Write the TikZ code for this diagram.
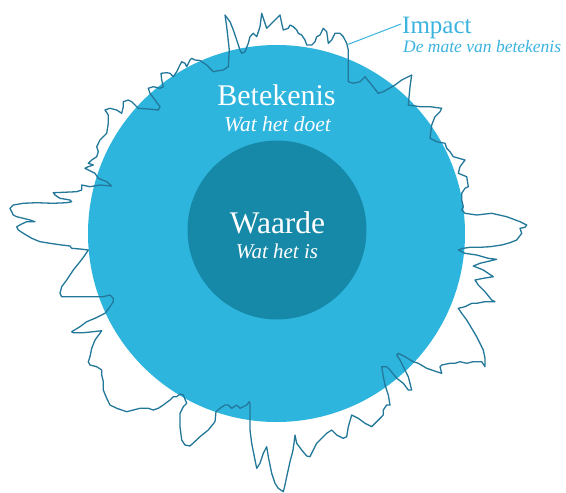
\documentclass[tikz,border=0pt]{standalone}
\usepackage{fontspec}
\setmainfont{Liberation Serif}
\definecolor{outer}{HTML}{2DB5DE}
\definecolor{inner}{HTML}{1789A8}
\definecolor{edge}{HTML}{23789A}
\definecolor{impc}{HTML}{3BB3E0}
\tikzset{
  outline/.style={draw=edge, line width=1.3pt, line join=round},
  whitetxt/.style={text=white, inner sep=0pt, anchor=base},
  bluetxt/.style={text=impc, inner sep=0pt, anchor=base west},
}
\begin{document}
\begin{tikzpicture}[x=1pt,y=-1pt]
\useasboundingbox (0,0) rectangle (566,493);
\fill[white] (0,0) rectangle (566,493);
\node[circle, fill=outer, minimum size=377pt, inner sep=0pt] (bet) at (276.5,233.5) {};
\node[circle, fill=inner, minimum size=179pt, inner sep=0pt] (waa) at (277,230) {};
\draw[outline] (148.3,88.3) -- (153.3,86.7) -- (160,88.3) -- (163.3,86.7) -- (161.7,80) -- (161,73.3) -- (166.7,72.7) -- (170,73.3) -- (173.3,76.7) -- (176.7,71.7) -- (180,65) -- (181.7,61.7) -- (185,63.3) -- (186.7,66.7) -- (190,60) -- (191.7,58.3) -- (195,60) -- (200,60.5) -- (206.7,65) -- (213.3,71.7) -- (218.3,70.7) -- (223.3,70) -- (228.3,66.7) -- (229.3,50) -- (226.7,26.7) -- (225,15) -- (230,21.7) -- (233.3,30) -- (236.7,40) -- (240,50) -- (241.7,53.3) -- (245,51.7) -- (248.3,43.3) -- (250,36.7) -- (253.3,33.3) -- (256.7,36.7) -- (260,26.7) -- (261.7,13.3) -- (265,23.3) -- (266.7,28.3) -- (270,25) -- (273.3,21.7) -- (278.3,16.7) -- (280,15) -- (281.7,23.3) -- (283.3,30) -- (288.3,28.3) -- (290,25) -- (293.3,26.7) -- (296.7,30) -- (298.3,33.3) -- (301.7,35) -- (305,40) -- (306.7,45) -- (311.7,45) -- (315,41.7) -- (316.7,36.7) -- (320,35) -- (323.3,28.3) -- (326.7,31.7) -- (328.3,43.3) -- (331.7,40) -- (335,33.3) -- (340,33.3) -- (343.3,36.7) -- (346.7,43.3) -- (348.3,50) -- (348.3,81.7) -- (353.3,83.3) -- (360,81.7) -- (365,76.7) -- (371.7,85) -- (378.3,93.3) -- (383.3,91.7) -- (395,85) -- (401.7,80) -- (411.7,75) -- (410,86.7) -- (408.3,105) -- (420,106.7) -- (430,106.7) -- (441.7,108.3) -- (440,111.7) -- (435,116.7) -- (431.7,125) -- (430,138.3) -- (436.7,141.7) -- (445,143.3) -- (446.7,148.3) -- (450,151.7) -- (453.3,156.7) -- (465,160) -- (460,166.7) -- (458.3,173.3) -- (466.7,176.7) -- (468.3,186.7) -- (465,188.3) -- (461.7,193.3) -- (461.7,200) -- (463.3,206.7) -- (461.7,210) -- (465,213.3) -- (476.7,215) -- (491.7,213.3) -- (506.7,216.7) -- (520,221.7) -- (526.7,225) -- (525,227.3) -- (520,228.3) -- (521.7,233.3) -- (516.7,240) -- (510,242.7) -- (501.7,245) -- (490,246.7) -- (480,247.3) -- (470,247.3) -- (463.3,248.3) -- (458.3,250) -- (465,253.3) -- (476.7,255) -- (488.3,258.3) -- (496.7,259.3) -- (480,263.3) -- (473.3,266) -- (483.3,270) -- (493.3,276.7) -- (483.3,278.3) -- (475,280) -- (478.3,285) -- (485,291.7) -- (491.7,300) -- (495,301.7) -- (485,301.7) -- (476.7,303.3) -- (471.7,303.3) -- (465,306.7) -- (458.3,308.3) -- (461.7,313.3) -- (466.7,320) -- (471.7,328.3) -- (476.7,336.7) -- (480,343.3) -- (483.3,350) -- (485,358.3) -- (485,366.7) -- (481.7,361.7) -- (473.3,361.7) -- (466.7,363.3) -- (460,361.7) -- (455,363.3) -- (450,363.3) -- (441.7,365) -- (440,366.7) -- (441.7,373.3) -- (436.7,371.7) -- (426.7,368.3) -- (418.3,363.3) -- (413.3,361.7) -- (405,356.7) -- (398.3,353.3) -- (396.7,355) -- (400,360) -- (405,370) -- (408.3,376.7) -- (411.7,390) -- (408.3,390) -- (403.3,383.3) -- (396.7,378.3) -- (390,370) -- (386.7,366.7) -- (381.7,366.7) -- (383.3,376.7) -- (385,385) -- (388.3,395) -- (390,405) -- (386.7,405) -- (383.3,410) -- (383.3,415) -- (376.7,421.7) -- (371.7,426.7) -- (365,423.3) -- (358.3,418.3) -- (351.7,415) -- (348.3,426.7) -- (346.7,436.7) -- (343.3,438.3) -- (340,436.7) -- (336.7,435) -- (331.7,430) -- (326.7,433.3) -- (321.7,438.3) -- (316.7,443.3) -- (313.3,450) -- (310,456.7) -- (306.7,456) -- (301.7,450) -- (296.7,443.3) -- (295,435) -- (294,443.3) -- (292.7,451.7) -- (290,461.7) -- (286.7,476.7) -- (285,485) -- (283.3,491.7) -- (278.3,488.3) -- (275,483.3) -- (271.7,473.3) -- (268.3,456.7) -- (266.7,446.7) -- (263.3,453.3) -- (260,463.3) -- (256.7,468.3) -- (255,460) -- (251.7,443.3) -- (250,430) -- (250,403.3) -- (249.3,401.7) -- (246.7,405) -- (243.3,406.7) -- (240,408.3) -- (236.7,405) -- (231.7,408.3) -- (228.3,405) -- (225,405) -- (220,408.3) -- (216,411.7) -- (215,421.7) -- (208.3,430) -- (200,436.7) -- (190,446) -- (185,445) -- (181.7,440) -- (180,426.7) -- (180,413.3) -- (183.3,406.7) -- (186.7,403.3) -- (183.3,395) -- (180,394) -- (176.7,396.7) -- (173.3,396.7) -- (170,400) -- (163.3,405) -- (158.3,408.3) -- (153.3,410) -- (148.3,408.3) -- (140,408.3) -- (126.7,411.7) -- (116.7,408.3) -- (110,405) -- (106.7,398.3) -- (103.3,390) -- (103.3,381.7) -- (101.7,375) -- (101.7,370) -- (96.7,366.7) -- (90,365) -- (88.3,361.7) -- (90,356.7) -- (91.7,348.3) -- (95,340) -- (100,333.3) -- (101.7,330.7) -- (93.3,331.7) -- (83.3,332.7) -- (73.3,332.7) -- (71.7,331.7) -- (80,326.7) -- (86.7,321.7) -- (95,318.3) -- (101.7,315) -- (105,313.3) -- (110,306.7) -- (113.3,301.7) -- (113.3,298.3) -- (110,295) -- (103.3,296.7) -- (93.3,296.7) -- (83.3,296.7) -- (71.7,296.7) -- (61.7,296.7) -- (60,293.3) -- (61.7,286.7) -- (66.7,280) -- (73.3,270) -- (80,261.7) -- (85,255) -- (88.3,250) -- (80,249) -- (71.7,248.3) -- (70,246) -- (61.7,245) -- (50,243.3) -- (40,241.7) -- (31.7,238.3) -- (23.3,233.3) -- (18.3,230) -- (16.7,226.7) -- (21.7,224) -- (26.7,221.7) -- (35,221.7) -- (30,220) -- (23.3,218.3) -- (16.7,216.7) -- (13.3,215) -- (11.7,211.7) -- (10,208.3) -- (13.3,205) -- (23.3,203.3) -- (36.7,202.7) -- (53.3,203.3) -- (66.7,202.7) -- (71.7,201.7) -- (70,200) -- (60,198.3) -- (55,195) -- (53.3,192.7) -- (63.3,192.3) -- (76.7,191.7) -- (81.7,190) -- (81.7,185) -- (90,186.7) -- (100,185) -- (111.7,186) -- (106.7,181.7) -- (98.3,178.3) -- (95,173.3) -- (88.3,170) -- (85,168.3) -- (88.3,166.7) -- (93.3,165) -- (88.3,163.3) -- (91.7,160) -- (96.7,156.7) -- (98.3,151.7) -- (96.7,146.7) -- (100,140) -- (103.3,136.7) -- (106.7,133.3) -- (108.3,123.3) -- (108.3,115) -- (105,110) -- (110,108.3) -- (116.7,110) -- (121.7,113.3) -- (123.3,106.7) -- (123.3,101.7) -- (128.3,100) -- (131.7,101.7) -- (135,105) -- (138.3,108.3) -- (148.3,109) -- (158.3,110) -- (160,106.7) -- (155,100) -- (150,93.3) -- cycle;
\node[whitetxt, font=\fontsize{30}{36}\selectfont] (betl) at (276.5,105) {Betekenis};
\node[whitetxt, font=\fontsize{21.5}{26}\selectfont\itshape] (betd) at (277.5,131) {Wat het doet};
\node[whitetxt, font=\fontsize{31.5}{38}\selectfont] (waal) at (277.5,233.3) {Waarde};
\node[whitetxt, font=\fontsize{21}{26}\selectfont\itshape] (waad) at (277,258.3) {Wat het is};
\node[bluetxt, font=\fontsize{25}{30}\selectfont] (imp) at (402,33.3) {Impact};
\node[bluetxt, font=\fontsize{17.5}{21}\selectfont\itshape] (impd) at (403,52.3) {De mate van betekenis};
\coordinate (impfrom) at (348.3,44.3);
\coordinate (impto) at (401,24);
\draw[impc, line width=1pt] (impfrom) -- (impto);
\end{tikzpicture}
\end{document}
